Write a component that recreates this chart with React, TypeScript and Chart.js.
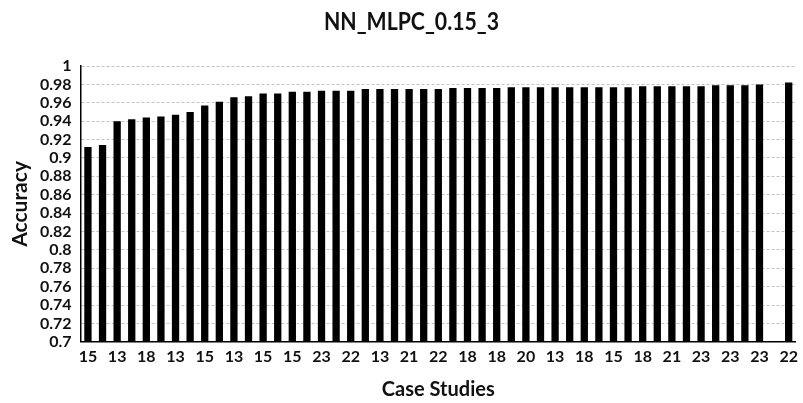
import React, { useEffect, useRef } from "react";
import { Chart, registerables } from "chart.js";

Chart.register(...registerables);

// Labels printed under every second case study (the ones in between are unlabelled)
const shownCaseLabels = [
  "15", "13", "18", "13", "15", "13", "15", "15", "23", "22", "13", "21", "22",
  "18", "18", "20", "13", "18", "15", "18", "21", "23", "23", "23", "22",
];

// Accuracy per case study, sorted ascending; one slot has no result
const accuracy: (number | null)[] = [
  0.912, 0.914, 0.940, 0.942, 0.944, 0.945, 0.947, 0.950, 0.957, 0.961,
  0.966, 0.967, 0.970, 0.970, 0.972, 0.972, 0.973, 0.973, 0.973, 0.975,
  0.975, 0.975, 0.975, 0.975, 0.975, 0.976, 0.976, 0.976, 0.976, 0.977,
  0.977, 0.977, 0.977, 0.977, 0.977, 0.977, 0.977, 0.977, 0.978, 0.978,
  0.978, 0.978, 0.978, 0.979, 0.979, 0.979, 0.980, null, 0.982,
];

const chartTitle = "NN_MLPC_0.15_3";
const yAxisTitle = "Accuracy";
const xAxisTitle = "Case Studies";
const yMin = 0.7;
const yMax = 1;
const yStep = 0.02;

const FONT = "Lato, 'Open Sans', sans-serif";

const categories = accuracy.map((_, i) =>
  i % 2 === 0 ? shownCaseLabels[i / 2] ?? "" : ""
);

// Chart title, drawn slightly condensed near the top centre
const plotTitle = {
  id: "plotTitle",
  afterDraw(chart: any) {
    const { ctx } = chart;
    ctx.save();
    ctx.font = `bold 25px ${FONT}`;
    ctx.fillStyle = "#111";
    ctx.textAlign = "center";
    ctx.textBaseline = "middle";
    ctx.translate(chart.width / 2 + 10, 22);
    ctx.scale(0.85, 1);
    ctx.fillText(chartTitle, 0, 0);
    ctx.restore();
  },
};

export default function App() {
  const canvasRef = useRef<HTMLCanvasElement | null>(null);

  useEffect(() => {
    if (!canvasRef.current) return;
    const chart = new Chart(canvasRef.current, {
      type: "bar",
      data: {
        labels: categories,
        datasets: [
          {
            data: accuracy,
            backgroundColor: "#000",
            barPercentage: 0.5,
            categoryPercentage: 1,
          },
        ],
      },
      options: {
        animation: false,
        responsive: true,
        maintainAspectRatio: false,
        layout: { padding: { top: 66, right: 5, left: 0, bottom: 1 } },
        plugins: {
          legend: { display: false },
          tooltip: { enabled: false },
          title: { display: false },
        },
        scales: {
          x: {
            grid: { display: false, drawTicks: false },
            border: { color: "#000", width: 1.5 },
            ticks: {
              autoSkip: false,
              maxRotation: 0,
              minRotation: 0,
              padding: 5,
              color: "#111",
              font: { family: FONT, weight: "bold", size: 16 },
            },
            title: {
              display: true,
              text: xAxisTitle,
              color: "#111",
              padding: { top: 7, bottom: 0 },
              font: { family: FONT, weight: "bold", size: 20 },
            },
          },
          y: {
            min: yMin,
            max: yMax,
            grid: {
              color: "#c4c4c4",
              lineWidth: 1,
              drawTicks: false,
            },
            border: { color: "#000", width: 1.5, dash: [3, 2] as any },
            ticks: {
              stepSize: yStep,
              autoSkip: false,
              padding: 9,
              color: "#111",
              font: { family: FONT, weight: "bold", size: 16, lineHeight: 1 },
              callback: (v: any) => String(Number(Number(v).toFixed(2))),
            },
            title: {
              display: true,
              text: yAxisTitle,
              color: "#111",
              padding: { top: 10, bottom: 0 },
              font: { family: FONT, weight: "bold", size: 21, lineHeight: 1 },
            },
          },
        },
      } as any,
      plugins: [plotTitle],
    });
    return () => chart.destroy();
  }, []);

  return (
    <div
      style={{
        position: "fixed",
        left: 0,
        top: 0,
        width: 803,
        height: 403,
        background: "#fff",
      }}
    >
      <canvas ref={canvasRef} />
    </div>
  );
}
